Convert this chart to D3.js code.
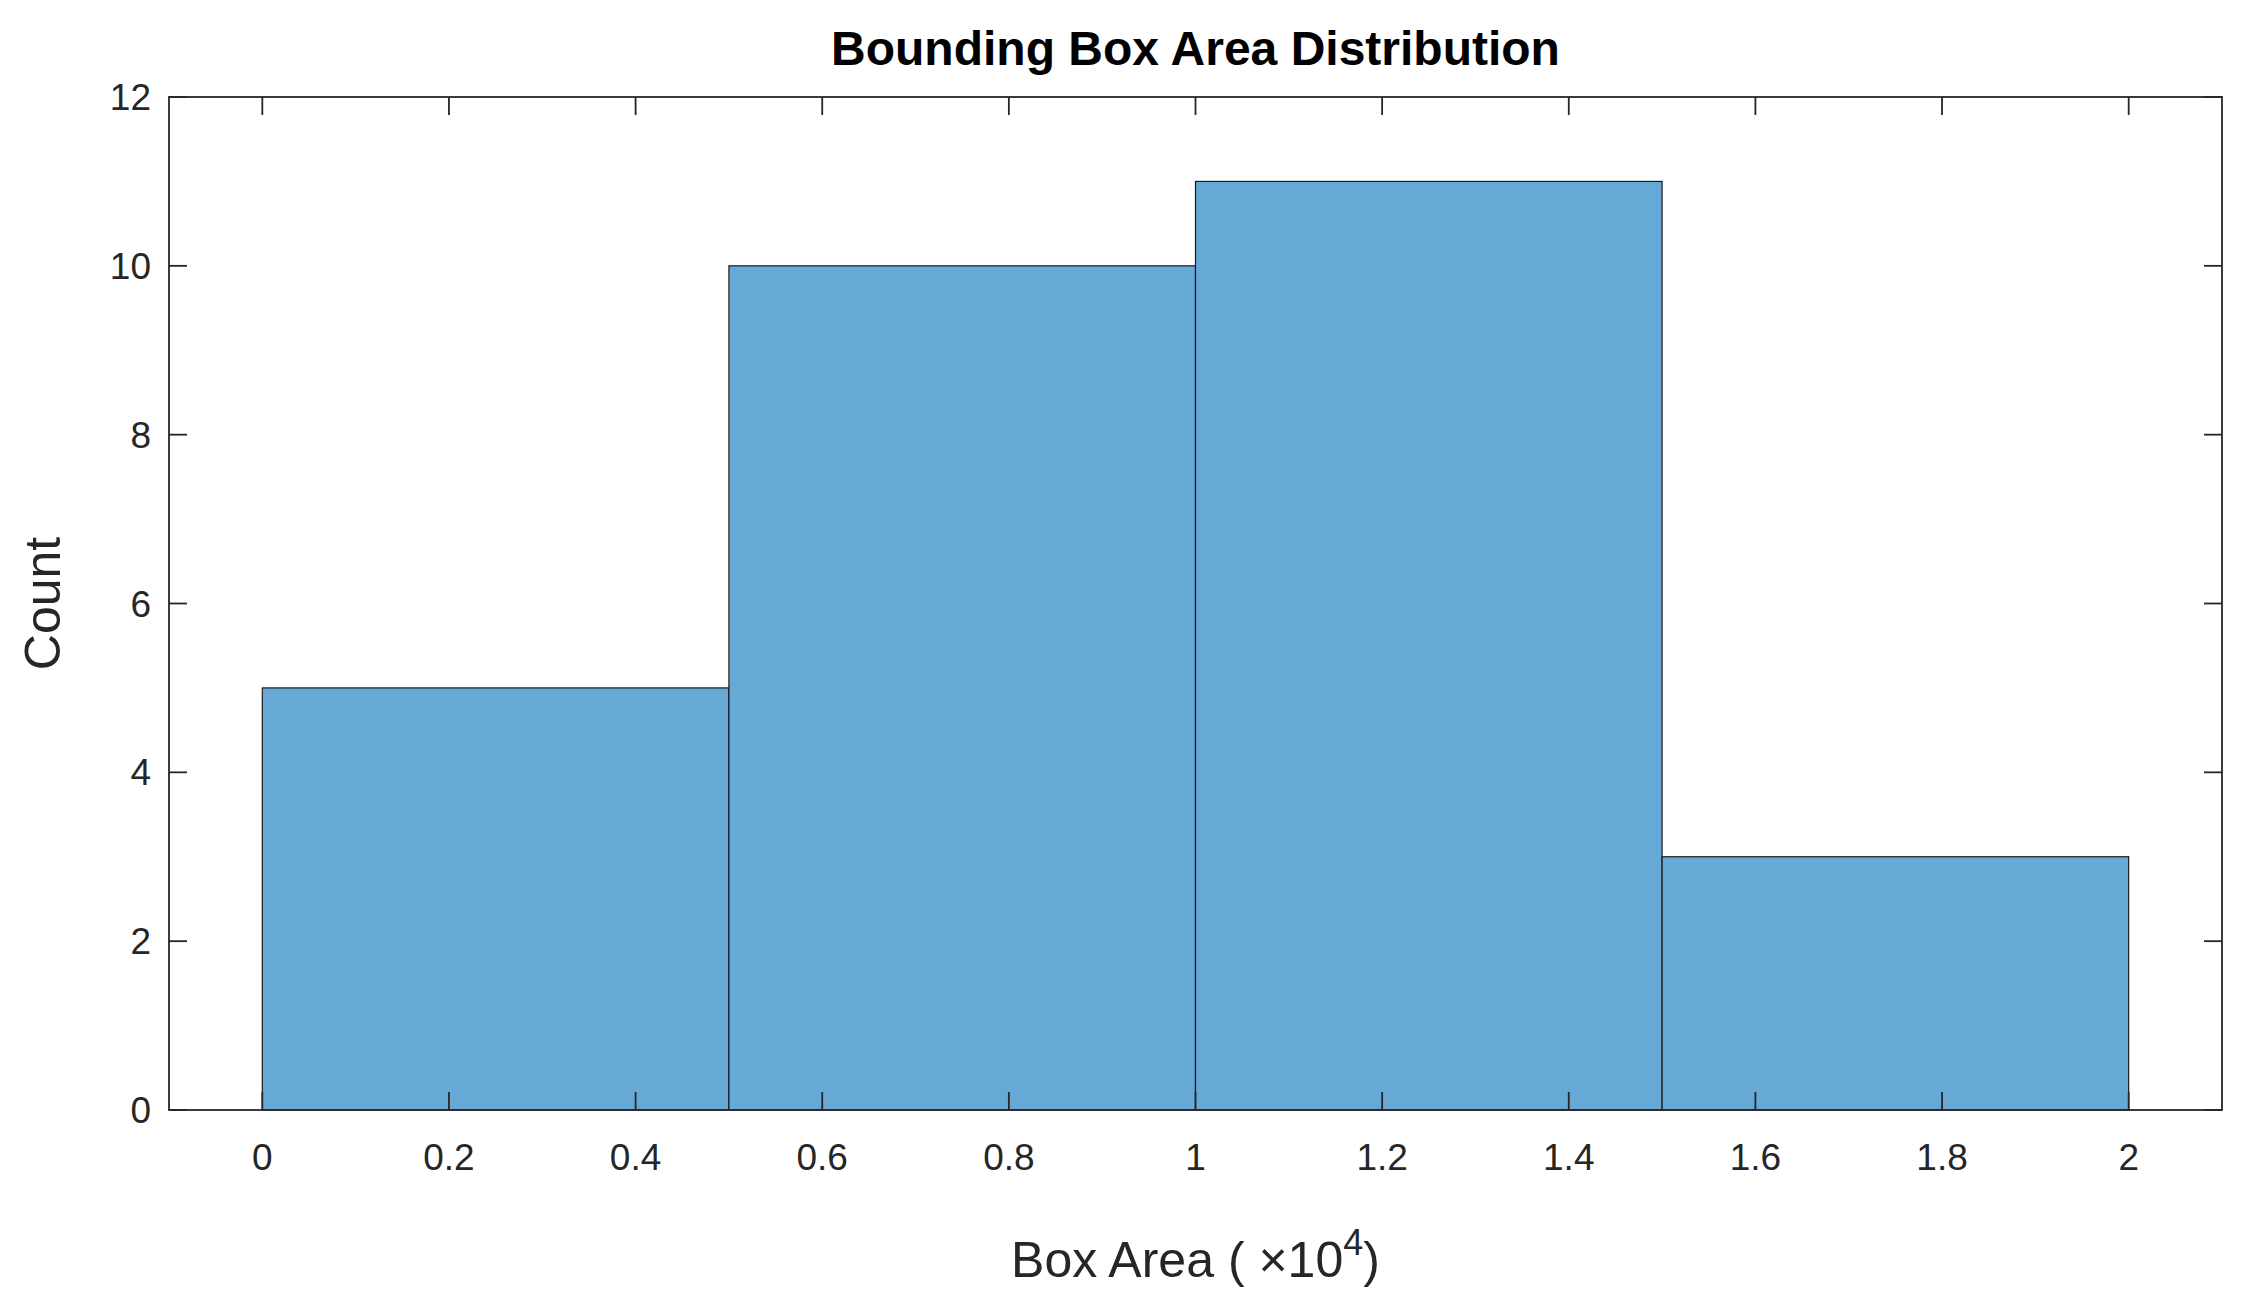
<!DOCTYPE html>
<html><head><meta charset="utf-8">
<script src="https://cdn.jsdelivr.net/npm/d3@7"></script>
<style>body{margin:0;background:#fff}</style>
</head><body>
<script>
// histogram bins (x in units of 10^4) and counts
var binEdges = [0, 0.5, 1.0, 1.5, 2.0];
var counts = [5, 10, 11, 3];
var xTicks = [0, 0.2, 0.4, 0.6, 0.8, 1, 1.2, 1.4, 1.6, 1.8, 2];
var yTicks = [0, 2, 4, 6, 8, 10, 12];

var W = 2248, H = 1314;
var m = {l: 169, r: 2222, t: 97, b: 1110};

var svg = d3.select("body").append("svg").attr("width", W).attr("height", H)
    .style("font-family", "Arial, 'Liberation Sans', sans-serif");

var x = d3.scaleLinear().domain([-0.1, 2.1]).range([m.l, m.r]);
var y = d3.scaleLinear().domain([0, 12]).range([m.b, m.t]);

// bars
svg.selectAll("rect.bar")
    .data(counts)
    .enter().append("rect")
    .attr("x", function(d, i) { return x(binEdges[i]); })
    .attr("y", function(d) { return y(d); })
    .attr("width", function(d, i) { return x(binEdges[i + 1]) - x(binEdges[i]); })
    .attr("height", function(d) { return y(0) - y(d); })
    .attr("fill", "#66a9d6")
    .attr("stroke", "#1a1a1a")
    .attr("stroke-width", 1.2);

// box with ticks inside, both sides
var tk = 18, col = "#262626";
var g = svg.append("g");
g.append("rect").attr("x", m.l).attr("y", m.t).attr("width", m.r - m.l).attr("height", m.b - m.t)
    .attr("fill", "none").attr("stroke", col).attr("stroke-width", 1.8);

xTicks.forEach(function(t) {
    g.append("line").attr("x1", x(t)).attr("x2", x(t)).attr("y1", m.b).attr("y2", m.b - tk).attr("stroke", col).attr("stroke-width", 1.8);
    g.append("line").attr("x1", x(t)).attr("x2", x(t)).attr("y1", m.t).attr("y2", m.t + tk).attr("stroke", col).attr("stroke-width", 1.8);
    g.append("text").attr("x", x(t)).attr("y", m.b + 60).attr("text-anchor", "middle")
        .attr("font-size", 37).attr("fill", col).text(d3.format("~g")(t));
});
yTicks.forEach(function(t) {
    g.append("line").attr("x1", m.l).attr("x2", m.l + tk).attr("y1", y(t)).attr("y2", y(t)).attr("stroke", col).attr("stroke-width", 1.8);
    g.append("line").attr("x1", m.r).attr("x2", m.r - tk).attr("y1", y(t)).attr("y2", y(t)).attr("stroke", col).attr("stroke-width", 1.8);
    g.append("text").attr("x", m.l - 18).attr("y", y(t) + 13).attr("text-anchor", "end")
        .attr("font-size", 37).attr("fill", col).text(t);
});

// title and labels
svg.append("text").attr("x", (m.l + m.r) / 2).attr("y", 65).attr("text-anchor", "middle")
    .attr("font-size", 48).attr("font-weight", "bold").attr("fill", "#000").text("Bounding Box Area Distribution");

var xl = svg.append("text").attr("x", (m.l + m.r) / 2).attr("y", 1277).attr("text-anchor", "middle")
    .attr("font-size", 50).attr("fill", col);
xl.append("tspan").text("Box Area ( \u00d710");
xl.append("tspan").attr("dy", -22).attr("font-size", 36).text("4");
xl.append("tspan").attr("dy", 22).text(")");

svg.append("text").attr("transform", "translate(60," + ((m.t + m.b) / 2) + ") rotate(-90)")
    .attr("text-anchor", "middle").attr("font-size", 50).attr("fill", col).text("Count");
</script>
</body></html>
